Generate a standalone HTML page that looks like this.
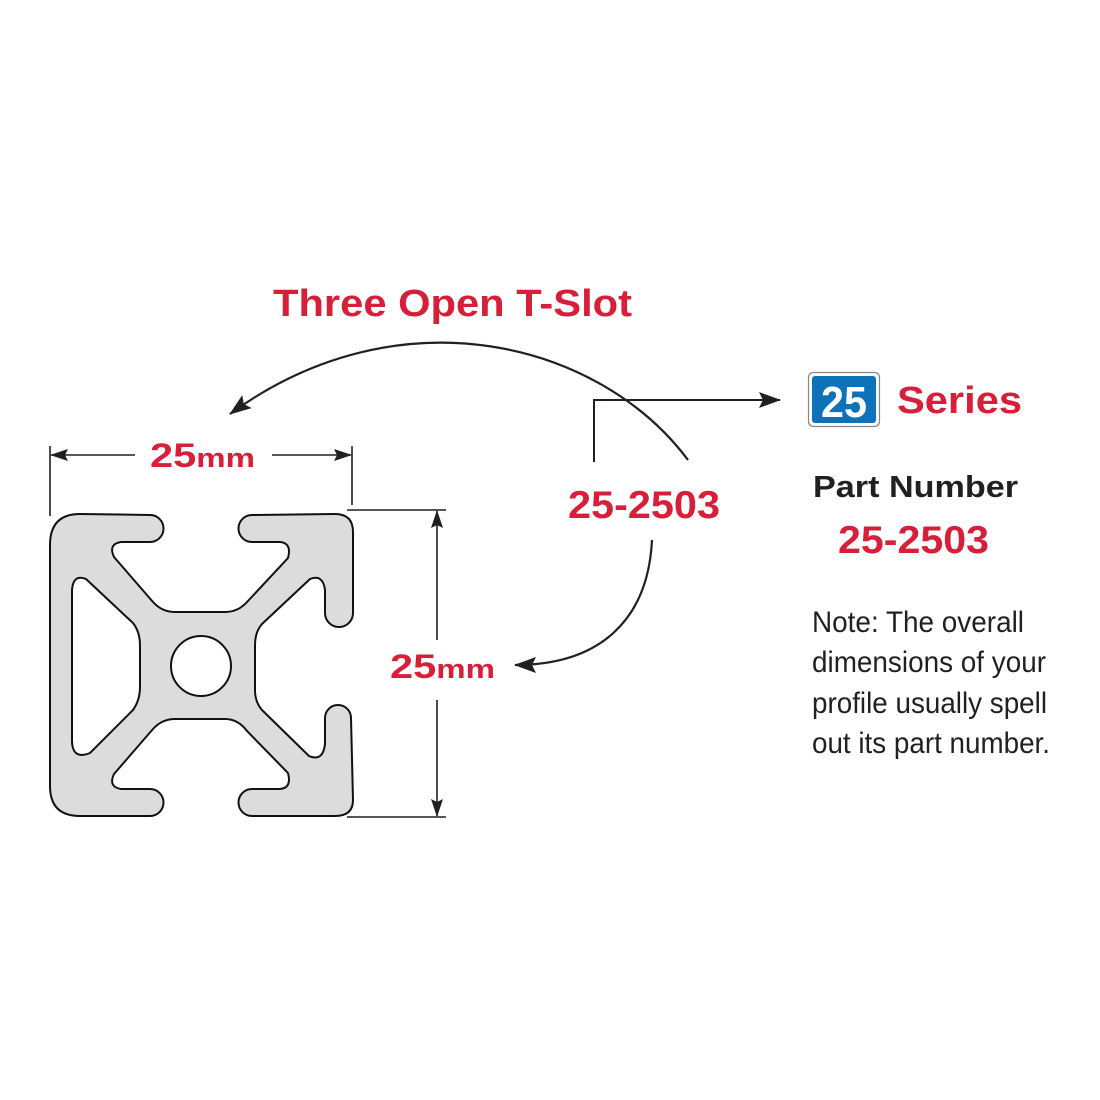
<!DOCTYPE html>
<html><head><meta charset="utf-8"><style>
html,body{margin:0;padding:0;background:#fff;width:1100px;height:1100px;overflow:hidden}
svg{display:block}
.r{fill:#d71f3a;font-family:"Liberation Sans",sans-serif;font-weight:bold}
.k{fill:#231f20;font-family:"Liberation Sans",sans-serif}
</style></head><body>
<svg width="1100" height="1100" viewBox="0 0 1100 1100" xmlns="http://www.w3.org/2000/svg">
<defs>
<marker id="a" markerWidth="18" markerHeight="12" refX="17" refY="6" orient="auto" markerUnits="userSpaceOnUse" viewBox="0 0 18 12">
<path d="M0,0 L18,6 L0,12 L3,6 Z" fill="#231f20"/></marker>
<marker id="b" markerWidth="22" markerHeight="16" refX="21" refY="8" orient="auto" markerUnits="userSpaceOnUse" viewBox="0 0 22 16">
<path d="M0,0 L22,8 L0,16 L4,8 Z" fill="#231f20"/></marker>
</defs>

<path fill="#dcdcdc" stroke="#111" stroke-width="2" fill-rule="evenodd" d="
M50,545 Q50,514 80,514 L150,515 A13.5,13.5 0 0 1 150,542 L121,542 Q108,544 114,557 L153,602 Q162,612 175,612 L225,612 Q238,612 247,602 L288,558 Q292,543 280,542 L252,542 A13.5,13.5 0 0 1 252,515 L335,514 Q353,514 353,532 L353,613 A14,14 0 0 1 325,613 L325,590 Q323,574 310,579 L262,624 Q255,632 255,645 L255,690 Q255,702 262,710 L309,756 Q323,762 325,744 L325,718 A13,13 0 0 1 351,718 L353,800 Q353,816 335,816 L252,816 A13.5,13.5 0 0 1 252,789 L280,789 Q292,788 288,773 L247,731 Q238,719 225,719 L175,719 Q162,719 153,729 L114,774 Q108,787 121,789 L150,789 A13.5,13.5 0 0 1 150,816 L80,816 Q50,816 50,786 Z
M72,590 Q73,574 86,579 L133,623 Q140,632 140,645 L140,687 Q140,700 133,710 L90,753 Q73,760 72,742 Z
M231,666 A30,30 0 1 0 171,666 A30,30 0 1 0 231,666 Z"/>

<g stroke="#231f20" stroke-width="1.6" fill="none">
<line x1="50" y1="446" x2="50" y2="516"/>
<line x1="352" y1="446" x2="352" y2="505"/>
<line x1="135" y1="455" x2="51" y2="455" marker-end="url(#a)"/>
<line x1="272" y1="455" x2="351" y2="455" marker-end="url(#a)"/>
<line x1="347" y1="510" x2="446" y2="510"/>
<line x1="347" y1="817" x2="446" y2="817"/>
<line x1="437" y1="640" x2="437" y2="511" marker-end="url(#a)"/>
<line x1="437" y1="700" x2="437" y2="816" marker-end="url(#a)"/>
<path d="M594,462 L594,400 L780,400" marker-end="url(#b)" stroke-width="2"/>
<path d="M688,460 C600,342 400,290 230,414" marker-end="url(#b)" stroke-width="2.2"/>
<path d="M652,540 C648,620 600,665 515,665" marker-end="url(#b)" stroke-width="2.2"/>
</g>

<text class="r" x="150" y="467" font-size="34" textLength="105" lengthAdjust="spacingAndGlyphs">25<tspan font-size="27">mm</tspan></text>
<text class="r" x="390" y="678" font-size="34" textLength="105" lengthAdjust="spacingAndGlyphs">25<tspan font-size="27">mm</tspan></text>
<text class="r" x="273" y="316" font-size="38" textLength="359" lengthAdjust="spacingAndGlyphs">Three Open T-Slot</text>
<text class="r" x="568" y="518" font-size="39" textLength="152" lengthAdjust="spacingAndGlyphs">25-2503</text>

<rect x="808.5" y="372.5" width="71" height="54" rx="5" fill="#fff" stroke="#888" stroke-width="1.2"/>
<rect x="812" y="376" width="64" height="47" rx="3" fill="#0d72b9"/>
<text x="844" y="417" font-size="44" font-weight="bold" fill="#fff" text-anchor="middle" font-family="Liberation Sans,sans-serif" textLength="46" lengthAdjust="spacingAndGlyphs">25</text>
<text class="r" x="897" y="413" font-size="38" textLength="125" lengthAdjust="spacingAndGlyphs">Series</text>

<text class="k" x="813" y="497" font-size="31" font-weight="bold" textLength="205" lengthAdjust="spacingAndGlyphs">Part Number</text>
<text class="r" x="838" y="553" font-size="39" textLength="151" lengthAdjust="spacingAndGlyphs">25-2503</text>

<g class="k" font-size="30">
<text x="812" y="632" textLength="212" lengthAdjust="spacingAndGlyphs">Note: The overall</text>
<text x="812" y="672" textLength="234" lengthAdjust="spacingAndGlyphs">dimensions of your</text>
<text x="812" y="713" textLength="235" lengthAdjust="spacingAndGlyphs">profile usually spell</text>
<text x="812" y="753" textLength="238" lengthAdjust="spacingAndGlyphs">out its part number.</text>
</g>
</svg>
</body></html>
